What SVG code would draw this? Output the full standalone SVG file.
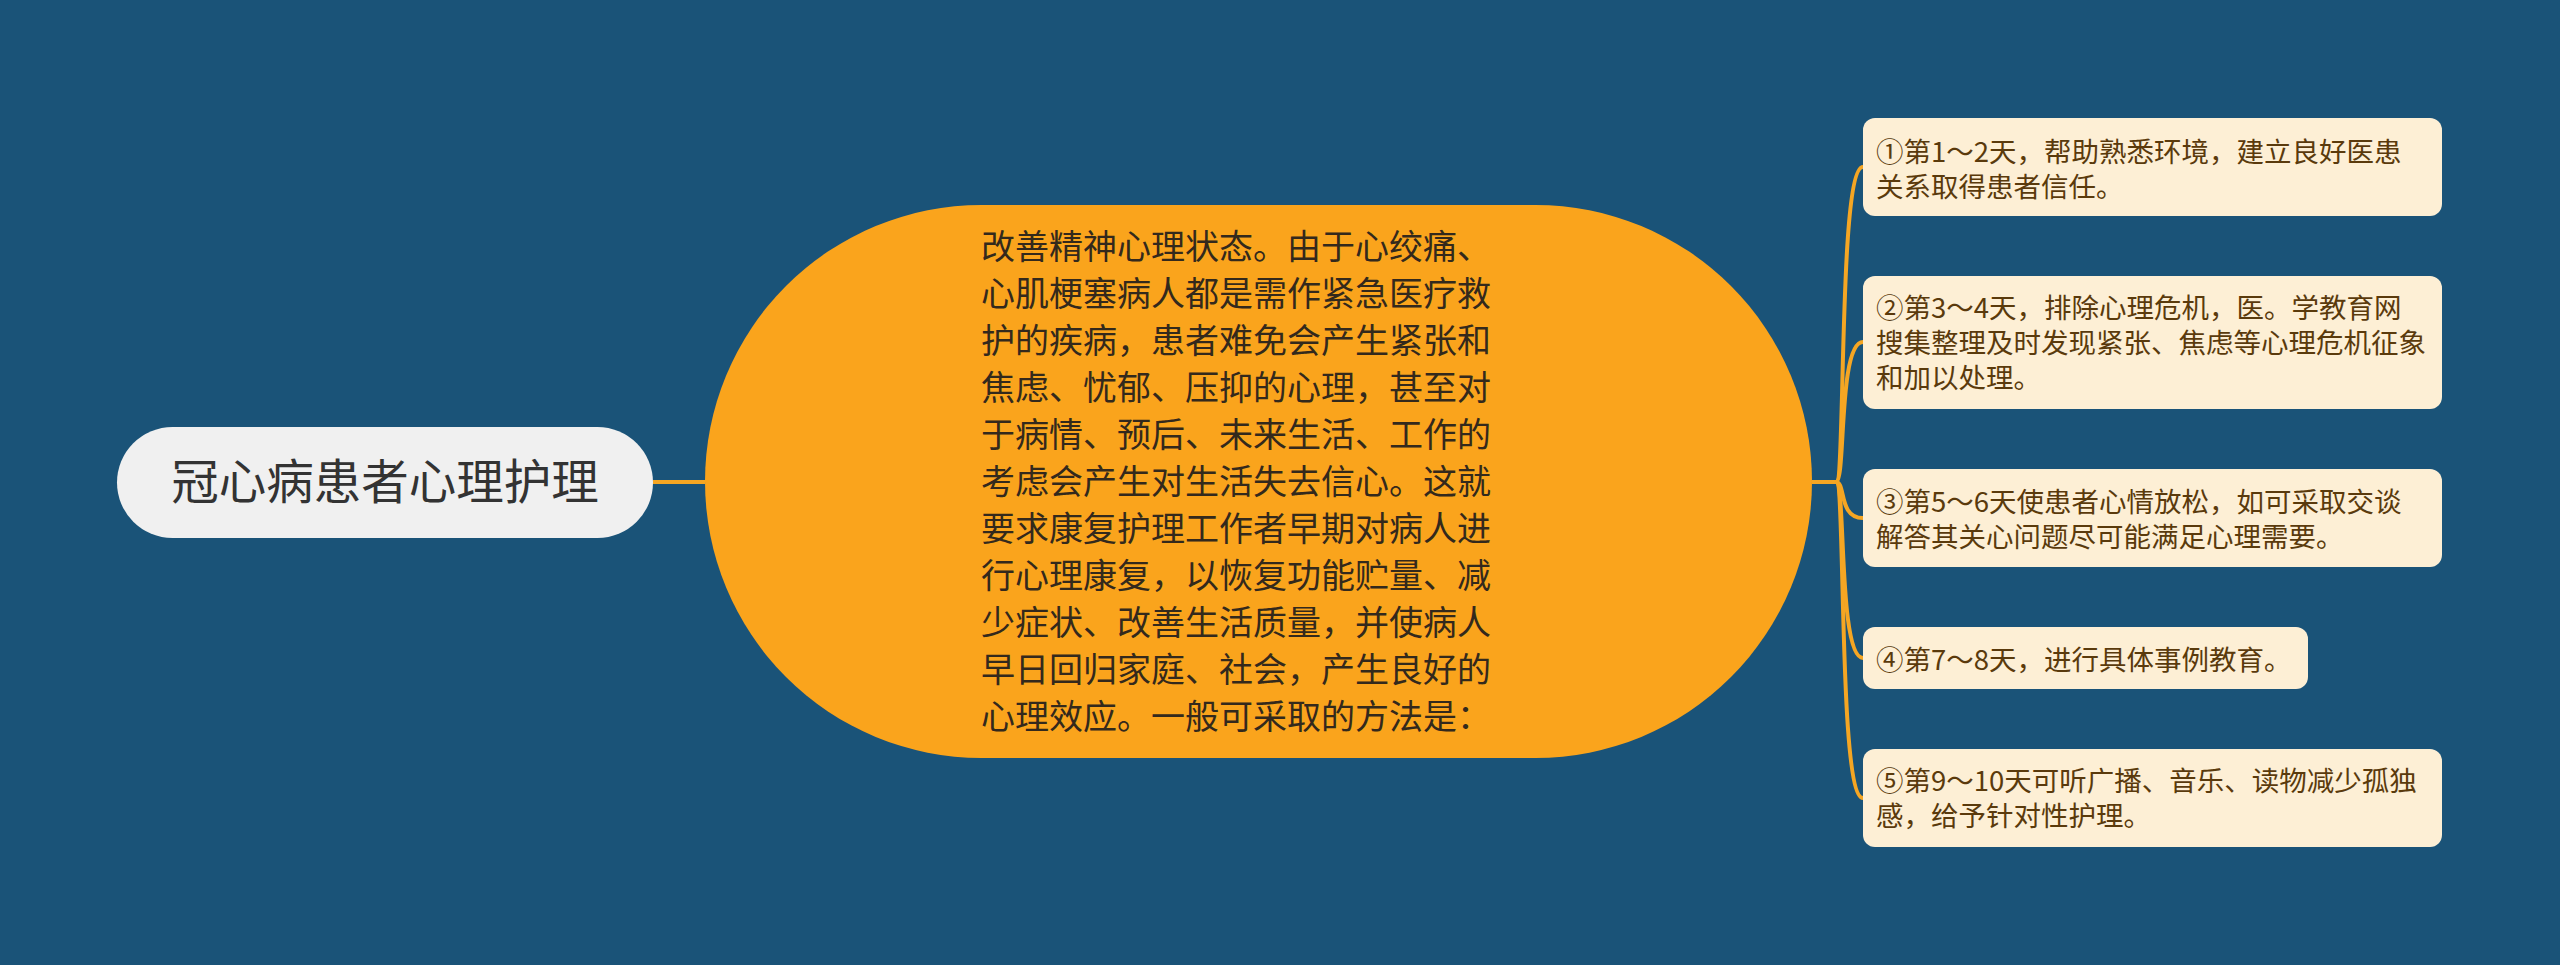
<svg xmlns="http://www.w3.org/2000/svg" width="2560" height="965" viewBox="0 0 2560 965">
  <style>
    .bg { fill: #1a5378; }
    .conn { fill: none; stroke: #f5a623; stroke-width: 4; }
    .root-box { fill: #f0f0f0; }
    .root-text { font-family: "Noto Sans CJK SC", "Noto Sans", sans-serif; font-size: 47.5px; fill: #333333; }
    .main-box { fill: #faa41c; }
    .main-text { font-family: "Noto Sans CJK SC", "Noto Sans", sans-serif; font-size: 34px; fill: #33291c; }
    .leaf-box { fill: #fdefd5; }
    .leaf-text { font-family: "Noto Sans CJK SC", "Noto Sans", sans-serif; font-size: 27.5px; fill: #5a3a0c; }
  </style>
  <rect class="bg" x="0" y="0" width="2560" height="965"/>

  <g id="connectors">
    <line class="conn" x1="653" y1="482" x2="705" y2="482"/>
    <line class="conn" x1="1812" y1="482" x2="1836" y2="482"/>
    <path class="conn" d="M1836,482 C1846,482 1838,167 1863,167"/>
    <path class="conn" d="M1836,482 C1846,482 1838,342 1863,342"/>
    <path class="conn" d="M1836,482 C1846,482 1838,518 1863,518"/>
    <path class="conn" d="M1836,482 C1846,482 1838,658 1863,658"/>
    <path class="conn" d="M1836,482 C1846,482 1838,798 1863,798"/>
  </g>

  <g id="root">
    <rect class="root-box" x="117" y="427" width="536" height="111" rx="55.5"/>
    <text class="root-text" x="385" y="499" text-anchor="middle">冠心病患者心理护理</text>
  </g>

  <g id="main">
    <rect class="main-box" x="705" y="205" width="1107" height="553" rx="276.5"/>
    <text class="main-text">
      <tspan x="981" y="259">改善精神心理状态。由于心绞痛、</tspan>
      <tspan x="981" y="306">心肌梗塞病人都是需作紧急医疗救</tspan>
      <tspan x="981" y="353">护的疾病，患者难免会产生紧张和</tspan>
      <tspan x="981" y="400">焦虑、忧郁、压抑的心理，甚至对</tspan>
      <tspan x="981" y="447">于病情、预后、未来生活、工作的</tspan>
      <tspan x="981" y="494">考虑会产生对生活失去信心。这就</tspan>
      <tspan x="981" y="541">要求康复护理工作者早期对病人进</tspan>
      <tspan x="981" y="588">行心理康复，以恢复功能贮量、减</tspan>
      <tspan x="981" y="635">少症状、改善生活质量，并使病人</tspan>
      <tspan x="981" y="682">早日回归家庭、社会，产生良好的</tspan>
      <tspan x="981" y="729">心理效应。一般可采取的方法是：</tspan>
    </text>
  </g>

  <g id="leaf1">
    <rect class="leaf-box" x="1863" y="118" width="579" height="98" rx="12"/>
    <text class="leaf-text">
      <tspan x="1876" y="162">①第1～2天，帮助熟悉环境，建立良好医患</tspan>
      <tspan x="1876" y="197">关系取得患者信任。</tspan>
    </text>
  </g>

  <g id="leaf2">
    <rect class="leaf-box" x="1863" y="276" width="579" height="133" rx="12"/>
    <text class="leaf-text">
      <tspan x="1876" y="318">②第3～4天，排除心理危机，医。学教育网</tspan>
      <tspan x="1876" y="353">搜集整理及时发现紧张、焦虑等心理危机征象</tspan>
      <tspan x="1876" y="388">和加以处理。</tspan>
    </text>
  </g>

  <g id="leaf3">
    <rect class="leaf-box" x="1863" y="469" width="579" height="98" rx="12"/>
    <text class="leaf-text">
      <tspan x="1876" y="512">③第5～6天使患者心情放松，如可采取交谈</tspan>
      <tspan x="1876" y="547">解答其关心问题尽可能满足心理需要。</tspan>
    </text>
  </g>

  <g id="leaf4">
    <rect class="leaf-box" x="1863" y="627" width="445" height="62" rx="12"/>
    <text class="leaf-text">
      <tspan x="1876" y="670">④第7～8天，进行具体事例教育。</tspan>
    </text>
  </g>

  <g id="leaf5">
    <rect class="leaf-box" x="1863" y="749" width="579" height="98" rx="12"/>
    <text class="leaf-text">
      <tspan x="1876" y="791">⑤第9～10天可听广播、音乐、读物减少孤独</tspan>
      <tspan x="1876" y="826">感，给予针对性护理。</tspan>
    </text>
  </g>
</svg>
